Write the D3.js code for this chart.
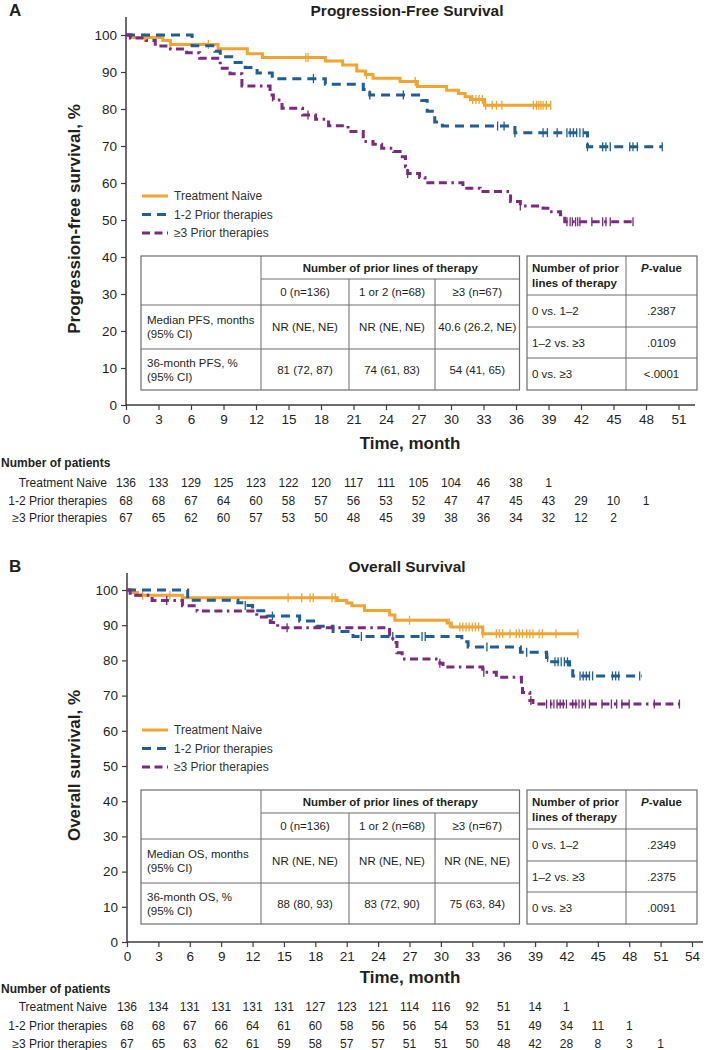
<!DOCTYPE html>
<html><head><meta charset="utf-8">
<script src="https://cdn.jsdelivr.net/npm/d3@7/dist/d3.min.js"></script>
<style>body{margin:0;background:#fff}</style>
</head><body><svg id="c" width="709" height="1050" xmlns="http://www.w3.org/2000/svg"></svg>
<script>
// ---------------- data ----------------
const groups = ["Treatment Naive", "1-2 Prior therapies", "≥3 Prior therapies"];
const colors = ["#f2a431", "#1f5e98", "#7b2a80"];
const yTickValues = d3.range(0, 101, 10);
const pfsMonthTicks = d3.range(0, 52, 3);
const osMonthTicks = d3.range(0, 55, 3);

// Panel A: PFS (time, survival %)
const pfsNaiveT = [0, 0.5, 3.4, 4.1, 8.5, 11.2, 12.6, 18.4, 20.0, 21.3, 22.1, 22.8, 25.3, 26.9, 29.6, 30.7, 31.3, 31.8, 33.1, 39.2];
const pfsNaiveS = [100, 99.3, 98.5, 97.4, 96.3, 94.9, 93.9, 93.0, 91.9, 90.3, 89.3, 88.3, 87.4, 86.1, 85.1, 84.2, 83.3, 82.6, 81.0, 81.0];
const pfsNaiveCens = [1.7, 4.1, 7.6, 8.5, 16.6, 16.8, 22.2, 26.7, 32.0, 32.3, 32.6, 32.9, 33.2, 33.8, 34.2, 34.7, 37.6, 37.9, 38.1, 38.3, 38.5, 38.8, 39.2];
const pfsOneTwoT = [0, 6.1, 8.2, 8.7, 9.9, 11.0, 12.1, 13.5, 18.4, 21.9, 22.5, 27.3, 27.8, 28.5, 29.2, 35.9, 42.6, 49.5];
const pfsOneTwoS = [100, 97.1, 95.6, 94.1, 92.6, 91.2, 89.7, 88.2, 86.7, 85.3, 83.8, 82.3, 79.4, 76.5, 75.4, 73.6, 69.8, 69.8];
const pfsOneTwoCens = [17.3, 22.5, 25.6, 34.3, 34.9, 35.9, 38.5, 38.9, 39.8, 40.7, 41.0, 41.3, 41.6, 41.9, 42.2, 42.6, 44.0, 44.3, 44.7, 46.5, 46.8, 47.2, 49.5];
const pfsThreeT = [0, 0.4, 1.9, 2.7, 4.1, 5.6, 6.8, 8.7, 9.6, 10.7, 13.3, 13.6, 14.4, 16.3, 17.5, 18.7, 20.5, 21.9, 22.8, 23.6, 24.7, 25.3, 25.8, 26.0, 27.1, 27.6, 31.1, 32.7, 35.5, 36.4, 38.5, 39.1, 40.1, 40.5, 46.8];
const pfsThreeS = [100, 99.2, 98.5, 97.0, 96.2, 95.2, 93.7, 91.0, 89.5, 86.2, 83.8, 82.4, 80.2, 78.4, 77.2, 75.5, 73.9, 71.2, 70.5, 69.4, 68.5, 67.1, 64.4, 62.6, 61.5, 60.1, 58.6, 57.7, 55.0, 53.8, 53.2, 52.2, 51.4, 49.5, 49.5];
const pfsThreeCens = [16.8, 26.0, 36.4, 40.7, 41.0, 41.2, 41.5, 41.7, 41.9, 43.0, 44.0, 44.3, 44.7, 46.8];

// Panel B: OS
const osNaiveT = [0, 0.5, 1.0, 5.3, 20.1, 21.0, 21.5, 22.7, 25.1, 25.6, 30.6, 31.0, 34.0, 43.1];
const osNaiveS = [100, 99.3, 98.5, 97.8, 97.0, 96.3, 95.5, 94.2, 92.9, 91.4, 90.6, 89.5, 87.6, 87.6];
const osNaiveCens = [1.5, 4.1, 15.4, 16.7, 17.5, 17.8, 19.6, 19.9, 27.0, 30.8, 31.8, 32.1, 32.4, 32.7, 33.0, 33.3, 33.6, 34.0, 35.3, 35.6, 35.9, 36.6, 37.2, 37.5, 37.8, 38.2, 38.5, 38.8, 39.4, 39.7, 41.0, 43.1];
const osOneTwoT = [0, 5.8, 10.6, 11.3, 12.0, 13.4, 16.5, 18.1, 19.7, 21.6, 32.0, 32.6, 37.6, 40.1, 40.4, 42.3, 42.6, 49.2];
const osOneTwoS = [100, 97.1, 96.4, 95.6, 94.1, 92.6, 91.2, 89.7, 88.2, 86.8, 85.3, 83.8, 82.3, 80.8, 79.6, 77.5, 75.6, 75.6];
const osOneTwoCens = [11.3, 13.9, 22.4, 25.4, 28.2, 28.5, 34.4, 38.2, 40.2, 40.9, 41.2, 41.5, 41.8, 42.1, 43.3, 43.6, 43.9, 44.2, 44.5, 46.4, 46.7, 47.0, 49.0];
const osThreeT = [0, 0.3, 2.4, 5.3, 6.7, 12.4, 13.7, 14.4, 25.1, 25.4, 25.8, 26.3, 29.9, 30.2, 34.0, 35.3, 37.7, 37.8, 38.5, 38.8, 52.8];
const osThreeS = [100, 98.5, 97.0, 95.5, 94.0, 92.3, 90.8, 89.3, 87.3, 85.1, 82.2, 80.4, 79.2, 78.1, 76.6, 75.2, 73.3, 70.9, 68.6, 67.6, 67.6];
const osThreeCens = [3.8, 15.3, 29.9, 34.1, 38.6, 40.1, 40.5, 40.8, 41.1, 41.4, 41.7, 42.0, 42.6, 42.9, 43.2, 43.5, 43.8, 44.2, 45.4, 46.3, 46.8, 47.3, 48.0, 50.4, 52.8];

// Numbers at risk
const pfsRiskNaive = [136, 133, 129, 125, 123, 122, 120, 117, 111, 105, 104, 46, 38, 1];
const pfsRiskOneTwo = [68, 68, 67, 64, 60, 58, 57, 56, 53, 52, 47, 47, 45, 43, 29, 10, 1];
const pfsRiskThree = [67, 65, 62, 60, 57, 53, 50, 48, 45, 39, 38, 36, 34, 32, 12, 2];
const osRiskNaive = [136, 134, 131, 131, 131, 131, 127, 123, 121, 114, 116, 92, 51, 14, 1];
const osRiskOneTwo = [68, 68, 67, 66, 64, 61, 60, 58, 56, 56, 54, 53, 51, 49, 34, 11, 1];
const osRiskThree = [67, 65, 63, 62, 61, 59, 58, 57, 57, 51, 51, 50, 48, 42, 28, 8, 3, 1];

// Table texts
const tblHeader = "Number of prior lines of therapy";
const tblCols = ["0 (n=136)", "1 or 2 (n=68)", "≥3 (n=67)"];
const pfsRowLabels = [["Median PFS, months", "(95% CI)"], ["36-month PFS, %", "(95% CI)"]];
const pfsValues = [["NR (NE, NE)", "NR (NE, NE)", "40.6 (26.2, NE)"], ["81 (72, 87)", "74 (61, 83)", "54 (41, 65)"]];
const osRowLabels = [["Median OS, months", "(95% CI)"], ["36-month OS, %", "(95% CI)"]];
const osValues = [["NR (NE, NE)", "NR (NE, NE)", "NR (NE, NE)"], ["88 (80, 93)", "83 (72, 90)", "75 (63, 84)"]];
const pComparisons = ["0 vs. 1–2", "1–2 vs. ≥3", "0 vs. ≥3"];
const pfsPValues = [".2387", ".0109", "<.0001"];
const osPValues = [".2349", ".2375", ".0091"];

// ---------------- drawing ----------------
const svg = d3.select("#c");
const FONT = "'Liberation Sans', Arial, Helvetica, sans-serif";
const NARROW = "'Liberation Sans Narrow', 'Arial Narrow', 'Liberation Sans', sans-serif";
const TXT = "#231f20";
const TBL = 11.5;
const dashes = [null, "9,6", "8,4.5,8,4.5,2.5,4.5"];

function panel(cfg) {
  const g = svg.append("g");
  const x = d3.scaleLinear().domain([0, cfg.xMax]).range([cfg.x0, cfg.x1]);
  const y = d3.scaleLinear().domain([0, 100]).range([cfg.y0, cfg.y100]);

  g.append("text").attr("x", 9).attr("y", cfg.titleY).attr("font-family", FONT).attr("font-weight", "bold")
    .attr("font-size", 17).attr("fill", TXT).text(cfg.letter);
  g.append("text").attr("x", 407).attr("y", cfg.titleY).attr("text-anchor", "middle").attr("font-family", FONT)
    .attr("font-weight", "bold").attr("font-size", 15.5).attr("fill", TXT).text(cfg.title);

  const xAxis = d3.axisBottom(x).tickValues(cfg.xTicks).tickSize(5).tickPadding(4).tickSizeOuter(0);
  const gx = g.append("g").attr("transform", `translate(0,${cfg.y0})`).call(xAxis);
  gx.select(".domain").remove();
  gx.append("line").attr("x1", cfg.x0).attr("x2", cfg.xEnd).attr("stroke", "#3c3c3c").attr("stroke-width", 1.5);
  gx.selectAll(".tick line").attr("stroke", "#3c3c3c").attr("stroke-width", 1.2);
  gx.selectAll(".tick text").attr("font-family", FONT).attr("font-size", 13.5).attr("fill", TXT);

  const yAxis = d3.axisLeft(y).tickValues(yTickValues).tickSize(5).tickPadding(4).tickSizeOuter(0);
  const gy = g.append("g").attr("transform", `translate(${cfg.x0},0)`).call(yAxis);
  gy.select(".domain").remove();
  gy.append("line").attr("y1", cfg.y0).attr("y2", cfg.yTop).attr("stroke", "#3c3c3c").attr("stroke-width", 1.5);
  gy.selectAll(".tick line").attr("stroke", "#3c3c3c").attr("stroke-width", 1.2);
  gy.selectAll(".tick text").attr("font-family", FONT).attr("font-size", 13.5).attr("fill", TXT);

  g.append("text").attr("transform", `translate(80,${(cfg.y0 + cfg.yTop) / 2 + 8}) rotate(-90)`)
    .attr("text-anchor", "middle").attr("font-family", FONT).attr("font-weight", "bold").attr("font-size", 17)
    .attr("fill", TXT).text(cfg.yLabel);
  g.append("text").attr("x", 410).attr("y", cfg.xLabelY).attr("text-anchor", "middle").attr("font-family", FONT)
    .attr("font-weight", "bold").attr("font-size", 17).attr("fill", TXT).text("Time, month");

  const line = d3.line().x(d => x(d[0])).y(d => y(d[1])).curve(d3.curveStepAfter);
  cfg.series.forEach((s, i) => {
    const pts = s.T.map((t, k) => [t, s.S[k]]);
    g.append("path").attr("d", line(pts)).attr("fill", "none").attr("stroke", colors[i])
      .attr("stroke-width", 3).attr("stroke-dasharray", dashes[i]);
    const surv = t => { let v = 100; s.T.forEach((tt, k) => { if (tt <= t) v = s.S[k]; }); return v; };
    g.selectAll(null).data(s.C).join("line")
      .attr("x1", d => x(d)).attr("x2", d => x(d))
      .attr("y1", d => y(surv(d)) - 4.5).attr("y2", d => y(surv(d)) + 4.5)
      .attr("stroke", colors[i]).attr("stroke-width", 1.3);
  });

  groups.forEach((name, i) => {
    const ly = cfg.legendY + i * 18.5;
    g.append("line").attr("x1", 142).attr("x2", 168).attr("y1", ly).attr("y2", ly)
      .attr("stroke", colors[i]).attr("stroke-width", 3).attr("stroke-dasharray", dashes[i]);
    g.append("text").attr("x", 174).attr("y", ly).attr("dy", "0.35em").attr("font-family", FONT)
      .attr("font-size", 12).attr("fill", "#333").text(name);
  });

  const T = cfg.tableTop;
  const lx = [141, 261, 349, 435, 519.5];
  const ly = [0, 23, 49, 93, 134].map(v => v + T);
  const tg = g.append("g");
  const ln = (x1, y1, x2, y2) => tg.append("line").attr("x1", x1).attr("y1", y1).attr("x2", x2).attr("y2", y2)
    .attr("stroke", "#6d6d6d").attr("stroke-width", 1);
  tg.append("rect").attr("x", lx[0]).attr("y", ly[0]).attr("width", lx[4] - lx[0]).attr("height", ly[4] - ly[0])
    .attr("fill", "#fff").attr("stroke", "#6d6d6d").attr("stroke-width", 1.2);
  ln(lx[1], ly[1], lx[4], ly[1]);
  ln(lx[0], ly[2], lx[4], ly[2]);
  ln(lx[0], ly[3], lx[4], ly[3]);
  ln(lx[1], ly[0], lx[1], ly[4]);
  ln(lx[2], ly[1], lx[2], ly[4]);
  ln(lx[3], ly[1], lx[3], ly[4]);
  const txt = (xx, yy, s, anchor, bold) => tg.append("text").attr("x", xx).attr("y", yy).attr("dy", "0.35em")
    .attr("text-anchor", anchor).attr("font-family", NARROW).attr("font-size", TBL)
    .attr("font-weight", bold ? "bold" : "normal").attr("fill", TXT).text(s);
  txt((lx[1] + lx[4]) / 2, (ly[0] + ly[1]) / 2, tblHeader, "middle", true);
  tblCols.forEach((c, j) => txt((lx[j + 1] + lx[j + 2]) / 2, (ly[1] + ly[2]) / 2, c, "middle", false));
  cfg.rowLabels.forEach((rl, r) => {
    const cy = (ly[r + 2] + ly[r + 3]) / 2;
    txt(lx[0] + 6, cy - 7, rl[0], "start", false);
    txt(lx[0] + 6, cy + 7, rl[1], "start", false);
    cfg.values[r].forEach((v, j) => txt((lx[j + 1] + lx[j + 2]) / 2, cy, v, "middle", false));
  });

  const rx = [527, 626, 697];
  const ry = [0, 39, 71, 102, 134].map(v => v + T);
  tg.append("rect").attr("x", rx[0]).attr("y", ry[0]).attr("width", rx[2] - rx[0]).attr("height", ry[4] - ry[0])
    .attr("fill", "#fff").attr("stroke", "#6d6d6d").attr("stroke-width", 1.2);
  ln(rx[1], ry[0], rx[1], ry[4]);
  [1, 2, 3].forEach(k => ln(rx[0], ry[k], rx[2], ry[k]));
  txt(rx[0] + 5, ry[0] + 12, "Number of prior", "start", true);
  txt(rx[0] + 5, ry[0] + 27, "lines of therapy", "start", true);
  const pv = tg.append("text").attr("x", (rx[1] + rx[2]) / 2).attr("y", ry[0] + 12).attr("dy", "0.35em")
    .attr("text-anchor", "middle").attr("font-family", NARROW).attr("font-size", TBL).attr("font-weight", "bold").attr("fill", TXT);
  pv.append("tspan").attr("font-style", "italic").text("P");
  pv.append("tspan").text("-value");
  pComparisons.forEach((c, k) => {
    const cy = (ry[k + 1] + ry[k + 2]) / 2;
    txt(rx[0] + 5, cy, c, "start", false);
    txt((rx[1] + rx[2]) / 2, cy, cfg.pvals[k], "middle", false);
  });

  g.append("text").attr("x", 1).attr("y", cfg.riskHeadY).attr("dy", "0.35em").attr("font-family", NARROW)
    .attr("font-weight", "bold").attr("font-size", 12).attr("fill", TXT).text("Number of patients");
  cfg.risk.forEach((arr, i) => {
    const ry2 = cfg.riskY[i];
    g.append("text").attr("x", 107).attr("y", ry2).attr("dy", "0.35em").attr("text-anchor", "end")
      .attr("font-family", NARROW).attr("font-size", 12).attr("fill", TXT).text(groups[i]);
    g.selectAll(null).data(arr).join("text")
      .attr("x", (d, k) => x(cfg.xTicks[k])).attr("y", ry2).attr("dy", "0.35em").attr("text-anchor", "middle")
      .attr("font-family", NARROW).attr("font-size", 12).attr("fill", TXT).text(d => d);
  });
}

panel({
  letter: "A", title: "Progression-Free Survival", titleY: 16,
  xMax: 51, x0: 126, x1: 678.5, xEnd: 695, xTicks: pfsMonthTicks,
  y0: 405, y100: 35, yTop: 17, yLabel: "Progression-free survival, %",
  xLabelY: 449,
  series: [
    {T: pfsNaiveT, S: pfsNaiveS, C: pfsNaiveCens},
    {T: pfsOneTwoT, S: pfsOneTwoS, C: pfsOneTwoCens},
    {T: pfsThreeT, S: pfsThreeS, C: pfsThreeCens}],
  legendY: 196, tableTop: 256,
  rowLabels: pfsRowLabels, values: pfsValues, pvals: pfsPValues,
  riskHeadY: 463, riskY: [483, 500.5, 518],
  risk: [pfsRiskNaive, pfsRiskOneTwo, pfsRiskThree]
});

panel({
  letter: "B", title: "Overall Survival", titleY: 572,
  xMax: 54, x0: 127, x1: 692, xEnd: 703, xTicks: osMonthTicks,
  y0: 942, y100: 590, yTop: 573, yLabel: "Overall survival, %",
  xLabelY: 983,
  series: [
    {T: osNaiveT, S: osNaiveS, C: osNaiveCens},
    {T: osOneTwoT, S: osOneTwoS, C: osOneTwoCens},
    {T: osThreeT, S: osThreeS, C: osThreeCens}],
  legendY: 730, tableTop: 790,
  rowLabels: osRowLabels, values: osValues, pvals: osPValues,
  riskHeadY: 989, riskY: [1007, 1025.5, 1044],
  risk: [osRiskNaive, osRiskOneTwo, osRiskThree]
});
</script>
</body></html>
